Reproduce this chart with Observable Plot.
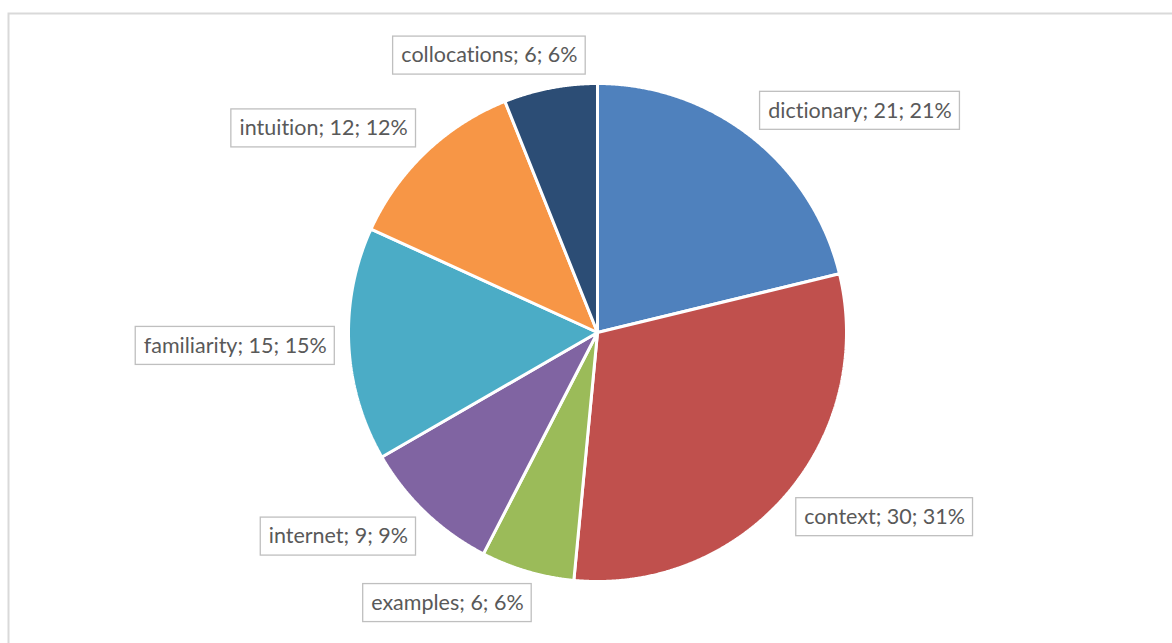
<!DOCTYPE html>
<html>
<head>
<meta charset="utf-8">
<script src="https://cdn.jsdelivr.net/npm/d3@7"></script>
<script src="https://cdn.jsdelivr.net/npm/@observablehq/plot@0.6"></script>
<style>
  html, body { margin: 0; padding: 0; background: #fff; }
  #chart svg { display: block; }
  #chart text { font-variant-ligatures: none; }
</style>
</head>
<body>
<div id="chart"></div>
<script>
// Slices, clockwise from 12 o'clock
const categories = ["dictionary", "context", "examples", "internet", "familiarity", "intuition", "collocations"];
const counts = [21, 30, 6, 9, 15, 12, 6];
const percentLabels = [21, 31, 6, 9, 15, 12, 6];
const colors = ["#4F81BD", "#C0504D", "#9BBB59", "#8064A2", "#4BACC6", "#F79646", "#2C4D75"];

// Layout
const W = 1172, H = 643;
const cx = 597, cy = 332, R = 249;
const labelGap = 14;
const fontSize = 21.5;
const fontFamily = "Lato, 'Open Sans', sans-serif";
const padX = 8, boxH = 38;

const arcs = d3.pie().sort(null).value(d => d)(counts);

// Polygon outline of each slice (centre, then along the arc)
const slicePoints = [];
arcs.forEach((a, i) => {
  slicePoints.push({slice: categories[i], x: 0, y: 0});
  const steps = Math.max(2, Math.ceil((a.endAngle - a.startAngle) / (Math.PI / 720)));
  for (let k = 0; k <= steps; k++) {
    const t = a.startAngle + (a.endAngle - a.startAngle) * k / steps;
    slicePoints.push({slice: categories[i], x: R * Math.sin(t), y: -R * Math.cos(t)});
  }
});

// Data label boxes, placed just outside the arc at each slice's mid angle
const ctx = document.createElement("canvas").getContext("2d");
ctx.font = `${fontSize}px ${fontFamily}`;
const labels = arcs.map((a, i) => {
  const text = `${categories[i]}; ${counts[i]}; ${percentLabels[i]}%`;
  const mid = (a.startAngle + a.endAngle) / 2;
  const s = Math.sin(mid), c = Math.cos(mid);
  const ax = (R + labelGap) * s, ay = -(R + labelGap) * c;
  const w = ctx.measureText(text).width + 2 * padX;
  const fRight = 0.5 + 0.5 * Math.max(-1, Math.min(1, 3.2 * s));
  const fAbove = 0.5 + 0.5 * c;
  const x1 = ax - w * (1 - fRight), x2 = x1 + w;
  const y1 = ay - boxH * fAbove, y2 = y1 + boxH;
  return {text, x1, x2, y1, y2, x: (x1 + x2) / 2, y: (y1 + y2) / 2};
});

const chart = Plot.plot({
  width: W,
  height: H,
  margin: 0,
  x: {domain: [-cx, W - cx], range: [0, W], axis: null},
  y: {domain: [-cy, H - cy], range: [0, H], axis: null},
  color: {domain: categories, range: colors},
  style: {fontFamily, background: "#fff"},
  marks: [
    Plot.frame({stroke: "#d9d9d9", strokeWidth: 2, insetLeft: 8, insetTop: 13, insetRight: -10, insetBottom: -10}),
    Plot.line(slicePoints, {
      x: "x", y: "y", z: "slice", fill: "slice",
      stroke: "#fff", strokeWidth: 3, curve: "linear-closed", strokeLinejoin: "miter"
    }),
    Plot.rect(labels, {x1: "x1", x2: "x2", y1: "y1", y2: "y2", fill: "#fff", stroke: "#bfbfbf", strokeWidth: 1.3}),
    Plot.text(labels, {x: "x", y: "y", text: "text", fill: "#595959", fontSize, lineAnchor: "middle"})
  ]
});

document.getElementById("chart").appendChild(chart);
</script>
</body>
</html>
